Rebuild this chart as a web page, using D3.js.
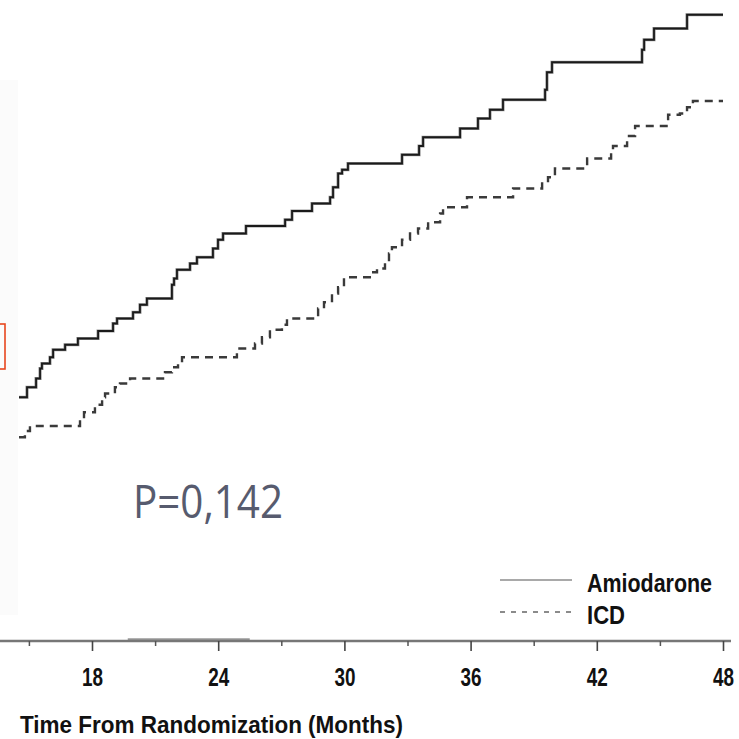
<!DOCTYPE html>
<html><head><meta charset="utf-8">
<script src="https://cdn.jsdelivr.net/npm/d3@7/dist/d3.min.js"></script>
<style>html,body{margin:0;padding:0;background:#fff;overflow:hidden}</style>
</head><body>
<svg id="c" width="739" height="739"></svg>
<script>
// Cumulative event rate (%) by month from randomization (Kaplan-Meier steps)
const amioMonths = [14.53,14.91,15.34,15.53,15.62,16.00,16.15,16.72,17.33,18.29,19.00,19.19,19.95,20.28,20.61,21.80,21.90,22.04,22.66,22.99,23.75,23.99,24.23,25.32,27.18,27.51,28.46,29.32,29.46,29.70,29.89,30.17,32.74,33.55,33.74,35.50,36.35,36.92,37.54,39.54,39.63,39.87,44.15,44.25,44.72,46.29,48.0];
const amioRisk   = [19.5,20.3,21.0,21.8,22.2,22.7,23.3,23.7,24.2,24.8,25.4,25.8,26.3,26.9,27.4,28.5,29.0,29.7,30.2,30.7,31.4,32.1,32.6,33.2,33.7,34.4,35.0,35.5,36.3,37.4,37.7,38.2,38.9,39.6,40.3,41.0,41.8,42.5,43.3,44.1,45.5,46.3,47.3,48.1,49.0,50.1,50.1];
const icdMonths = [14.53,14.81,15.05,17.43,17.62,18.14,18.48,18.62,19.09,19.33,19.81,21.47,21.80,22.09,22.28,24.89,25.75,26.08,26.46,27.03,27.27,28.75,29.03,29.41,29.70,29.98,31.27,31.55,31.93,32.12,32.26,32.74,33.12,33.50,33.98,34.55,34.69,35.83,38.02,39.40,39.68,40.01,41.54,42.68,42.77,43.44,43.53,43.82,45.39,45.95,46.29,46.57,48.0];
const icdRisk   = [16.3,16.8,17.2,17.8,18.3,18.9,19.5,19.8,20.3,20.6,21.0,21.5,21.9,22.2,22.7,23.4,23.8,24.3,24.9,25.3,25.8,26.6,27.1,27.8,28.3,29.1,29.5,29.8,30.3,31.0,31.5,32.1,32.6,33.0,33.5,34.2,34.7,35.5,36.2,36.7,37.1,37.8,38.6,39.3,39.6,40.1,40.4,41.2,42.1,42.2,42.7,43.2,43.2];
const majorTicks = [18, 24, 30, 36, 42, 48];
const minorTicks = [15, 21, 27, 33, 39, 45];
const seriesNames = ["Amiodarone", "ICD"];
const xTitle = "Time From Randomization (Months)";
const pText = "P=0,142";

const svg = d3.select("#c");
const x = d3.scaleLinear().domain([18, 48]).range([92, 723]);
const y = d3.scaleLinear().domain([0, 50]).range([641, 16]);
const narrow = "'Liberation Sans', Arial, Helvetica, sans-serif";

// faint remnants of the cropped y axis labels
svg.append("rect").attr("x", 0).attr("y", 80).attr("width", 18).attr("height", 535).attr("fill", "#fbfbfb");
// red highlight box (cropped)
svg.append("rect").attr("x", -30).attr("y", 324).attr("width", 35).attr("height", 45)
  .attr("fill", "none").attr("stroke", "#e8471e").attr("stroke-width", 1.6);

const line = d3.line().x(d => x(d[0])).y(d => y(d[1])).curve(d3.curveStepAfter);
const amio = amioMonths.map((m, i) => [m, amioRisk[i]]);
const icd = icdMonths.map((m, i) => [m, icdRisk[i]]);

svg.append("path").datum(amio).attr("d", line).attr("fill", "none")
  .attr("stroke", "#9a9a9a").attr("stroke-width", 3.2);
svg.append("path").datum(amio).attr("d", line).attr("fill", "none")
  .attr("stroke", "#1a1a1a").attr("stroke-width", 1.8);
svg.append("path").datum(icd).attr("d", line).attr("fill", "none")
  .attr("stroke", "#3a3a3a").attr("stroke-width", 2.4).attr("stroke-dasharray", "8,6");

// x axis
const axisY = y(0);
svg.append("line").attr("x1", x(19.7)).attr("x2", x(25.5)).attr("y1", axisY - 1.5).attr("y2", axisY - 1.5)
  .attr("stroke", "#999").attr("stroke-width", 2.5);
svg.append("line").attr("x1", 0).attr("x2", x(48) + 8).attr("y1", axisY).attr("y2", axisY)
  .attr("stroke", "#777").attr("stroke-width", 2.6);
const gMaj = svg.append("g").attr("transform", `translate(0,${axisY})`)
  .call(d3.axisBottom(x).tickValues(majorTicks).tickSize(10).tickPadding(17).tickFormat(d3.format("d")));
gMaj.select(".domain").remove();
gMaj.selectAll(".tick line").attr("stroke", "#444").attr("stroke-width", 1.6);
gMaj.selectAll(".tick text").attr("font-family", narrow).attr("font-weight", "bold")
  .attr("font-size", 25).attr("fill", "#111").attr("dy", "0.71em")
  .attr("textLength", 21).attr("lengthAdjust", "spacingAndGlyphs");
const gMin = svg.append("g").attr("transform", `translate(0,${axisY})`)
  .call(d3.axisBottom(x).tickValues(minorTicks).tickSize(5).tickFormat(""));
gMin.select(".domain").remove();
gMin.selectAll(".tick line").attr("stroke", "#555").attr("stroke-width", 1.5);

svg.append("text").attr("x", 20).attr("y", 733).text(xTitle)
  .attr("font-family", narrow).attr("font-weight", "bold").attr("font-size", 24).attr("fill", "#111")
  .attr("textLength", 383).attr("lengthAdjust", "spacingAndGlyphs");

// legend
const legY = [580, 612];
svg.append("line").attr("x1", 500).attr("x2", 572).attr("y1", legY[0]).attr("y2", legY[0])
  .attr("stroke", "#555").attr("stroke-width", 1.2);
svg.append("line").attr("x1", 500).attr("x2", 572).attr("y1", legY[1]).attr("y2", legY[1])
  .attr("stroke", "#666").attr("stroke-width", 1.4).attr("stroke-dasharray", "5,6");
const legW = [125, 38];
seriesNames.forEach((n, i) => {
  svg.append("text").attr("x", 587).attr("y", legY[i] + 12).text(n)
    .attr("font-family", narrow).attr("font-weight", "bold").attr("font-size", 25).attr("fill", "#111")
    .attr("textLength", legW[i]).attr("lengthAdjust", "spacingAndGlyphs");
});

// p-value annotation
svg.append("text").attr("x", 133).attr("y", 518).text(pText)
  .attr("font-family", "'Open Sans', 'Noto Sans', sans-serif").attr("font-size", 46).attr("fill", "#575b6e")
  .attr("textLength", 150).attr("lengthAdjust", "spacingAndGlyphs");
</script>
</body></html>
